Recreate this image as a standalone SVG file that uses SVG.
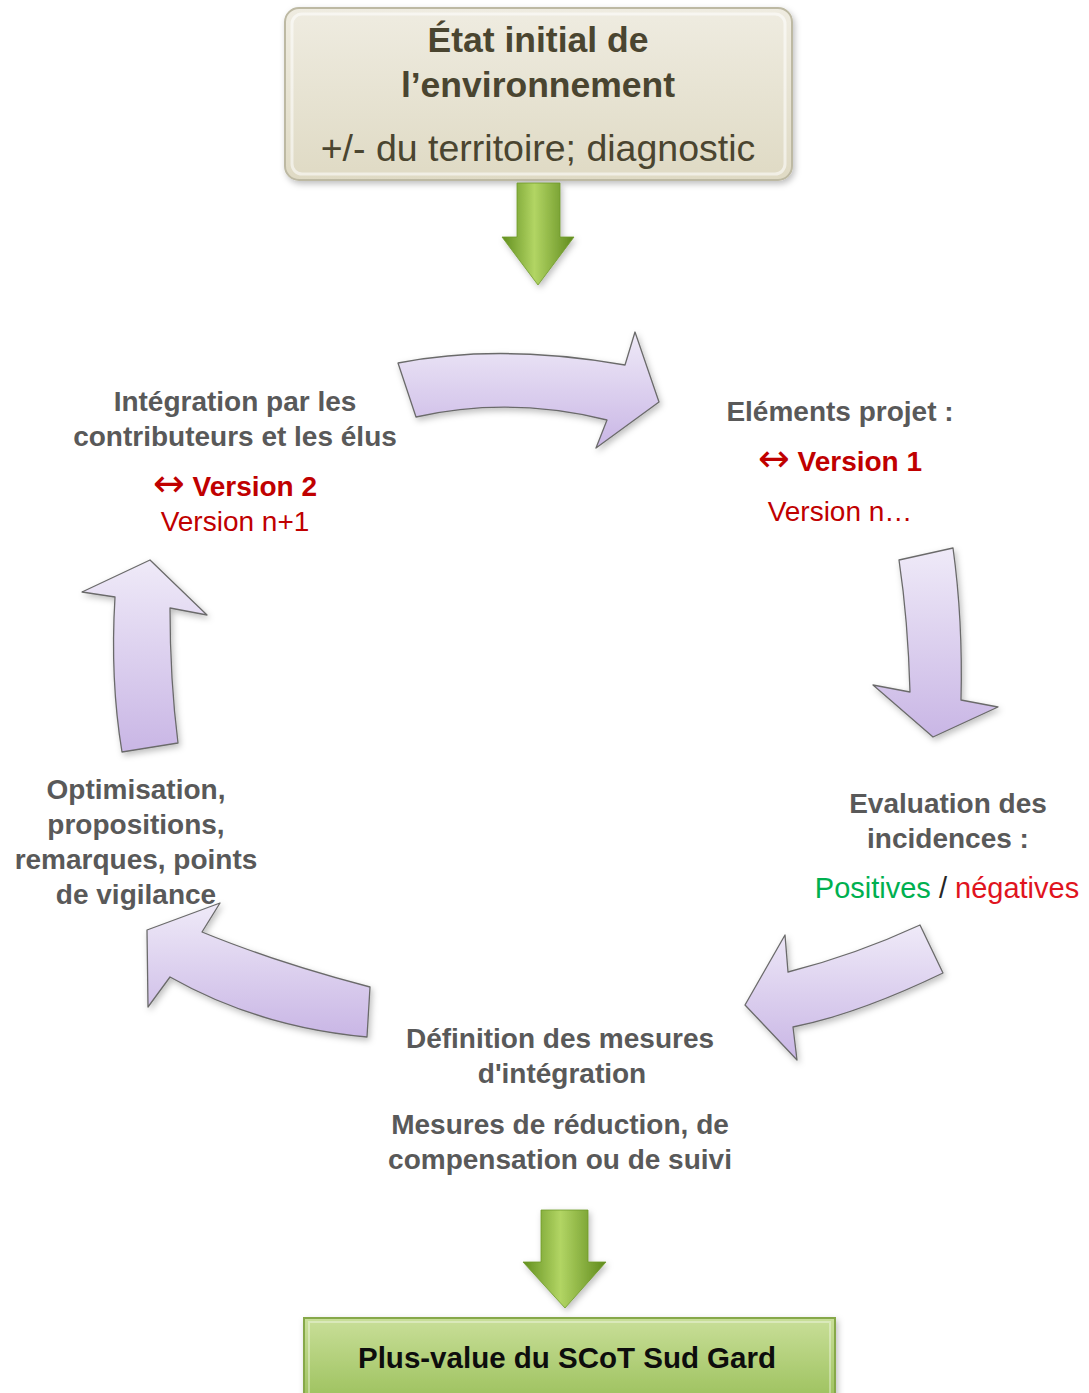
<svg xmlns="http://www.w3.org/2000/svg" width="1089" height="1393" viewBox="0 0 1089 1393">
<style>
.lbl{font-family:"Liberation Sans",Arial,sans-serif;font-weight:bold;font-size:28px;fill:#595959;text-anchor:middle}
.red{font-family:"Liberation Sans",Arial,sans-serif;font-size:28px;fill:#c00000;text-anchor:middle}
.redb{font-weight:bold}
.dbl{font-family:"DejaVu Sans",sans-serif;font-size:38px;font-weight:normal}
.cyc{fill:url(#gPurple);stroke:#6b6b6b;stroke-width:1.3;stroke-linejoin:round;filter:url(#shadow)}
.garrow{fill:url(#gGreen);stroke:#6e9a2a;stroke-width:0.8;filter:url(#shadow)}
</style>
<defs>
<linearGradient id="gPurple" x1="0" y1="0" x2="0" y2="1">
<stop offset="0" stop-color="#efeaf8"/>
<stop offset="1" stop-color="#c9b6e5"/>
</linearGradient>
<linearGradient id="gGreen" x1="0" y1="0" x2="1" y2="0">
<stop offset="0" stop-color="#628f1e"/>
<stop offset="0.45" stop-color="#b2d564"/>
<stop offset="1" stop-color="#5f8a1c"/>
</linearGradient>
<linearGradient id="gBeige" x1="0" y1="0" x2="0" y2="1">
<stop offset="0" stop-color="#efece1"/>
<stop offset="1" stop-color="#dfdac4"/>
</linearGradient>
<linearGradient id="gBox" x1="0" y1="0" x2="0" y2="1">
<stop offset="0" stop-color="#c9df99"/>
<stop offset="1" stop-color="#9ec25f"/>
</linearGradient>
<filter id="shadow" x="-20%" y="-20%" width="140%" height="140%">
<feDropShadow dx="2" dy="3" stdDeviation="3" flood-color="#000" flood-opacity="0.25"/>
</filter>
</defs>

<g id="etat-initial">
<rect x="285" y="8" width="507" height="172" rx="14" fill="url(#gBeige)" stroke="#bdb9a3" stroke-width="2" filter="url(#shadow)"/>
<rect x="292" y="14" width="493" height="160" rx="10" fill="none" stroke="#ffffff" stroke-opacity="0.55" stroke-width="3"/>
<text x="538" y="52" style="font-family:'Liberation Sans',Arial,sans-serif;font-weight:bold;font-size:35.5px;fill:#4a4530;text-anchor:middle">État initial de</text>
<text x="538" y="97" style="font-family:'Liberation Sans',Arial,sans-serif;font-weight:bold;font-size:35.5px;fill:#4a4530;text-anchor:middle">l’environnement</text>
<text x="538" y="161" style="font-family:'Liberation Sans',Arial,sans-serif;font-size:37.5px;fill:#4a4530;text-anchor:middle">+/- du territoire; diagnostic</text>
</g>

<g id="integration">
<text class="lbl" x="235" y="411">Intégration par les</text>
<text class="lbl" x="235" y="446">contributeurs et les élus</text>
<text class="red redb" x="235" y="496"><tspan class="dbl">↔</tspan> Version 2</text>
<text class="red" x="235" y="531">Version n+1</text>
</g>

<g id="elements-projet">
<text class="lbl" x="840" y="421">Eléments projet :</text>
<text class="red redb" x="840" y="471"><tspan class="dbl">↔</tspan> Version 1</text>
<text class="red" x="840" y="521">Version n…</text>
</g>

<g id="evaluation">
<text class="lbl" x="948" y="813">Evaluation des</text>
<text class="lbl" x="948" y="848">incidences :</text>
<text x="947" y="898" style="font-family:'Liberation Sans',Arial,sans-serif;font-size:29px;text-anchor:middle"><tspan fill="#00b050">Positives</tspan><tspan fill="#262626"> / </tspan><tspan fill="#e0141e">négatives</tspan></text>
</g>

<g id="definition">
<text class="lbl" x="560" y="1048">Définition des mesures</text>
<text class="lbl" x="562" y="1083">d'intégration</text>
<text class="lbl" x="560" y="1134">Mesures de réduction, de</text>
<text class="lbl" x="560" y="1169">compensation ou de suivi</text>
</g>

<g id="optimisation">
<text class="lbl" x="136" y="799">Optimisation,</text>
<text class="lbl" x="136" y="834">propositions,</text>
<text class="lbl" x="136" y="869">remarques, points</text>
<text class="lbl" x="136" y="904">de vigilance</text>
</g>

<g id="plus-value">
<rect x="304" y="1318" width="531" height="80" fill="url(#gBox)" stroke="#86a84a" stroke-width="2" filter="url(#shadow)"/>
<rect x="309" y="1322" width="521" height="80" fill="none" stroke="#ffffff" stroke-opacity="0.35" stroke-width="2"/>
<text x="567" y="1368" style="font-family:'Liberation Sans',Arial,sans-serif;font-weight:bold;font-size:29.5px;fill:#0d0d0d;text-anchor:middle">Plus-value du SCoT Sud Gard</text>
</g>

<g id="connectors">
<path class="garrow" d="M 517 183 L 560 183 L 560 237 L 574 237 L 538 285 L 502 237 L 517 237 Z"/>
<path class="garrow" d="M 541 1210 L 588 1210 L 588 1262 L 606 1262 L 565 1308 L 523 1262 L 541 1262 Z"/>
<path class="cyc" d="M 398 363 Q 500 343 625 365 L 635 332 L 659 402 L 596 448 L 607 420 Q 510 396 416 417 Z"/>
<path class="cyc" d="M 899 560 L 953 548 Q 963 620 961 700 L 998 707 L 933 737 L 873 685 L 910 692 Q 908 620 899 560 Z"/>
<path class="cyc" d="M 920 925 Q 855 955 788 972 L 785 935 L 745 1005 L 797 1060 L 793 1027 Q 858 1014 943 973 Z"/>
<path class="cyc" d="M 370 987 Q 275 962 202 932 L 220 903 L 147 930 L 148 1007 L 170 977 Q 258 1027 367 1037 Z"/>
<path class="cyc" d="M 122 752 L 178 743 Q 170 680 170 608 L 207 615 L 150 560 L 82 592 L 115 597 Q 110 680 122 752 Z"/>
</g>
</svg>
